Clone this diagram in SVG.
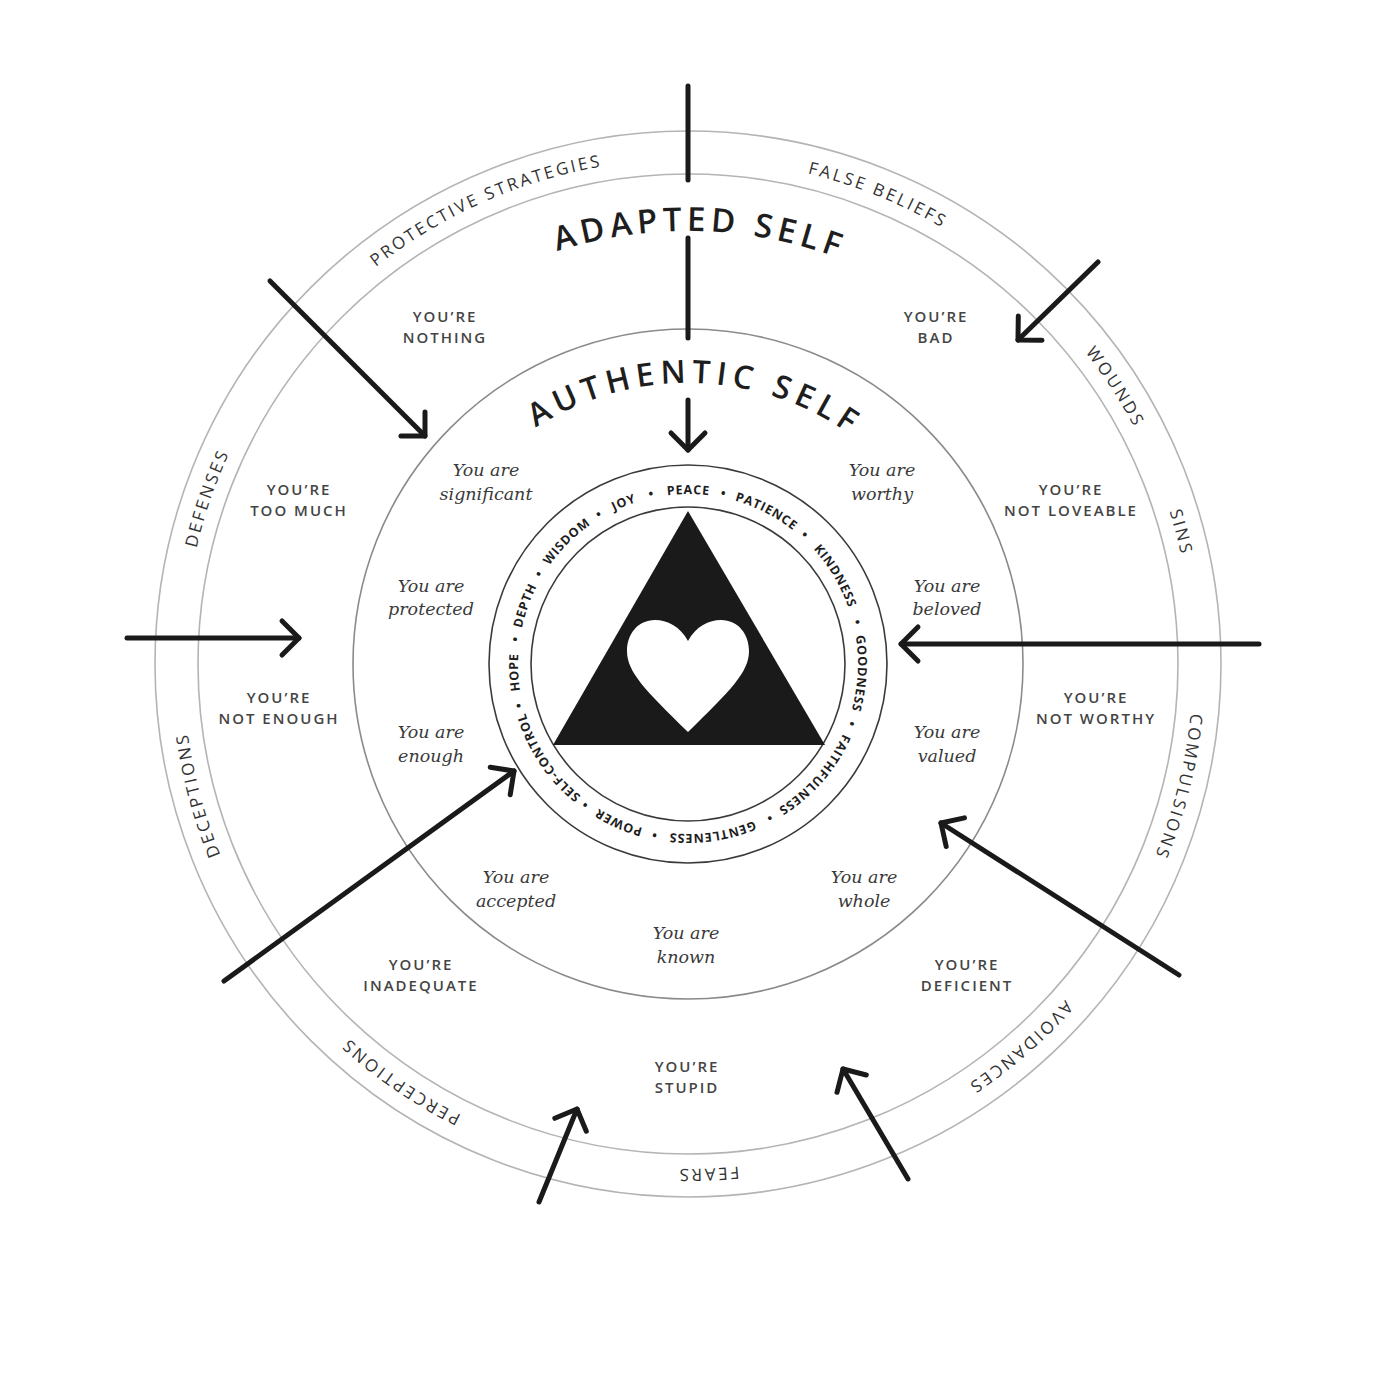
<svg xmlns="http://www.w3.org/2000/svg" xmlns:xlink="http://www.w3.org/1999/xlink" width="1400" height="1400" viewBox="0 0 1400 1400">
<style>
.ring{fill:none;stroke:#b4b4b4;stroke-width:1.6}
.ring2{fill:none;stroke:#8a8a8a;stroke-width:1.6}
.ring3{fill:none;stroke:#3a3a3a;stroke-width:1.6}
.arr{fill:none;stroke:#1a1a1a;stroke-width:5;stroke-linecap:round}
.caps{font-family:"Open Sans","Liberation Sans",sans-serif;font-weight:600;font-size:15px;letter-spacing:2px;fill:#444444;text-anchor:middle}
.ital{font-family:"DejaVu Serif","Liberation Serif",serif;font-style:italic;font-size:17.5px;fill:#3a3a3a;text-anchor:middle}
.band{font-family:"Open Sans","Liberation Sans",sans-serif;font-size:17px;letter-spacing:2.6px;fill:#333333;text-anchor:middle}
.virt{font-family:"Open Sans","Liberation Sans",sans-serif;font-weight:700;font-size:12.5px;letter-spacing:0.8px;fill:#1e1e1e;text-anchor:middle}
.title{font-family:"Open Sans","Liberation Sans",sans-serif;font-weight:600;fill:#1e1e1e;text-anchor:middle}
</style>
<defs>
<marker id="ah" viewBox="-30 -30 60 60" markerWidth="60" markerHeight="60" refX="0" refY="0" orient="auto" markerUnits="userSpaceOnUse">
<path d="M-17,-17 L0,0 L-17,17" fill="none" stroke="#1a1a1a" stroke-width="5" stroke-linecap="round" stroke-linejoin="round"/>
</marker>
<path id="bandPath" d="M688,159 A505,505 0 1 1 688,1169 A505,505 0 1 1 688,159 A505,505 0 1 1 688,1169 A505,505 0 1 1 688,159"/>
<path id="virtPath" d="M688,494 A170,170 0 1 1 688,834 A170,170 0 1 1 688,494 A170,170 0 1 1 688,834 A170,170 0 1 1 688,494"/>
<path id="adaptedPath" d="M255,664 A433,433 0 0 1 1121,664"/>
<path id="authPath" d="M407,664 A281,281 0 0 1 969,664"/>
</defs>
<rect width="1400" height="1400" fill="#ffffff"/>

<g id="circles">
<circle class="ring" cx="688" cy="664" r="533"/>
<circle class="ring" cx="688" cy="664" r="490"/>
<circle class="ring2" cx="688" cy="664" r="335"/>
<circle class="ring3" cx="688" cy="664" r="199"/>
<circle class="ring3" cx="688" cy="664" r="157"/>
</g>

<g id="core">
<polygon points="688,511 553,745 825,745" fill="#1a1a1a"/>
<path d="M688,641 C680,626 667,620 655,620 C638,620 627,634 627,651 C627,672 645,690 688,732 C731,690 749,672 749,651 C749,634 738,620 721,620 C709,620 696,626 688,641 Z" fill="#ffffff"/>
</g>

<g id="virtues" class="virt">
<text><textPath xlink:href="#virtPath" href="#virtPath" startOffset="1068.1">PEACE</textPath></text>
<text><textPath href="#virtPath" startOffset="1102.6">•</textPath></text>
<text><textPath href="#virtPath" startOffset="1148.3">PATIENCE</textPath></text>
<text><textPath href="#virtPath" startOffset="1192.8">•</textPath></text>
<text><textPath href="#virtPath" startOffset="1243.2">KINDNESS</textPath></text>
<text><textPath href="#virtPath" startOffset="1293.6">•</textPath></text>
<text><textPath href="#virtPath" startOffset="1344.1">GOODNESS</textPath></text>
<text><textPath href="#virtPath" startOffset="1394.5">•</textPath></text>
<text><textPath href="#virtPath" startOffset="1456.8">FAITHFULNESS</textPath></text>
<text><textPath href="#virtPath" startOffset="1519.1">•</textPath></text>
<text><textPath href="#virtPath" startOffset="1577.0">GENTLENESS</textPath></text>
<text><textPath href="#virtPath" startOffset="1634.8">•</textPath></text>
<text><textPath href="#virtPath" startOffset="1671.9">POWER</textPath></text>
<text><textPath href="#virtPath" startOffset="1709.0">•</textPath></text>
<text><textPath href="#virtPath" startOffset="1768.4">SELF-CONTROL</textPath></text>
<text><textPath href="#virtPath" startOffset="1827.7">•</textPath></text>
<text><textPath href="#virtPath" startOffset="1860.3">HOPE</textPath></text>
<text><textPath href="#virtPath" startOffset="1893.0">•</textPath></text>
<text><textPath href="#virtPath" startOffset="1927.1">DEPTH</textPath></text>
<text><textPath href="#virtPath" startOffset="1961.2">•</textPath></text>
<text><textPath href="#virtPath" startOffset="2002.8">WISDOM</textPath></text>
<text><textPath href="#virtPath" startOffset="2044.3">•</textPath></text>
<text><textPath href="#virtPath" startOffset="2071.0">JOY</textPath></text>
<text><textPath href="#virtPath" startOffset="2099.2">•</textPath></text>
</g>

<g id="titles" class="title">
<text font-size="33" letter-spacing="5"><textPath href="#adaptedPath" startOffset="692">ADAPTED SELF</textPath></text>
<text font-size="32" letter-spacing="5.8"><textPath href="#authPath" startOffset="449">AUTHENTIC SELF</textPath></text>
</g>

<g id="band-labels" class="band">
<text><textPath href="#bandPath" startOffset="2961.5">PROTECTIVE STRATEGIES</textPath></text>
<text><textPath href="#bandPath" startOffset="3366.9">FALSE BELIEFS</textPath></text>
<text><textPath href="#bandPath" startOffset="3675.4">WOUNDS</textPath></text>
<text><textPath href="#bandPath" startOffset="3834.0">SINS</textPath></text>
<text><textPath href="#bandPath" startOffset="4089.6">COMPULSIONS</textPath></text>
<text><textPath href="#bandPath" startOffset="4398.1">AVOIDANCES</textPath></text>
<text><textPath href="#bandPath" startOffset="4739.2">FEARS</textPath></text>
<text><textPath href="#bandPath" startOffset="1890.6">PERCEPTIONS</textPath></text>
<text><textPath href="#bandPath" startOffset="2247.5">DECEPTIONS</textPath></text>
<text><textPath href="#bandPath" startOffset="2547.2">DEFENSES</textPath></text>
</g>

<g id="adapted-messages" class="caps">
<g id="m-nothing"><text x="445" y="322">YOU’RE</text><text x="445" y="343">NOTHING</text></g>
<g id="m-bad"><text x="936" y="322">YOU’RE</text><text x="936" y="343">BAD</text></g>
<g id="m-toomuch"><text x="299" y="495">YOU’RE</text><text x="299" y="516">TOO MUCH</text></g>
<g id="m-notloveable"><text x="1071" y="495">YOU’RE</text><text x="1071" y="516">NOT LOVEABLE</text></g>
<g id="m-notenough"><text x="279" y="703">YOU’RE</text><text x="279" y="724">NOT ENOUGH</text></g>
<g id="m-notworthy"><text x="1096" y="703">YOU’RE</text><text x="1096" y="724">NOT WORTHY</text></g>
<g id="m-inadequate"><text x="421" y="970">YOU’RE</text><text x="421" y="991">INADEQUATE</text></g>
<g id="m-deficient"><text x="967" y="970">YOU’RE</text><text x="967" y="991">DEFICIENT</text></g>
<g id="m-stupid"><text x="687" y="1072">YOU’RE</text><text x="687" y="1093">STUPID</text></g>
</g>

<g id="authentic-messages" class="ital">
<g id="a-significant"><text x="486" y="476">You are</text><text x="486" y="500">significant</text></g>
<g id="a-worthy"><text x="882" y="476">You are</text><text x="882" y="500">worthy</text></g>
<g id="a-protected"><text x="431" y="592">You are</text><text x="431" y="615">protected</text></g>
<g id="a-beloved"><text x="947" y="592">You are</text><text x="947" y="615">beloved</text></g>
<g id="a-enough"><text x="431" y="738">You are</text><text x="431" y="762">enough</text></g>
<g id="a-valued"><text x="947" y="738">You are</text><text x="947" y="762">valued</text></g>
<g id="a-accepted"><text x="516" y="883">You are</text><text x="516" y="907">accepted</text></g>
<g id="a-whole"><text x="864" y="883">You are</text><text x="864" y="907">whole</text></g>
<g id="a-known"><text x="686" y="939">You are</text><text x="686" y="963">known</text></g>
</g>

<g id="connectors">
<line class="arr" x1="688" y1="86" x2="688" y2="180"/>
<line class="arr" x1="688" y1="238" x2="688" y2="338"/>
<line class="arr" x1="688" y1="400" x2="688" y2="450" marker-end="url(#ah)"/>
<line class="arr" x1="270" y1="281" x2="425" y2="436" marker-end="url(#ah)"/>
<line class="arr" x1="1098" y1="262" x2="1018" y2="340" marker-end="url(#ah)"/>
<line class="arr" x1="127" y1="638" x2="299" y2="638" marker-end="url(#ah)"/>
<line class="arr" x1="1259" y1="644" x2="901" y2="644" marker-end="url(#ah)"/>
<line class="arr" x1="224" y1="981" x2="514" y2="771" marker-end="url(#ah)"/>
<line class="arr" x1="1179" y1="975" x2="941" y2="823" marker-end="url(#ah)"/>
<line class="arr" x1="539" y1="1202" x2="577" y2="1109" marker-end="url(#ah)"/>
<line class="arr" x1="908" y1="1179" x2="843" y2="1069" marker-end="url(#ah)"/>
</g>
</svg>
